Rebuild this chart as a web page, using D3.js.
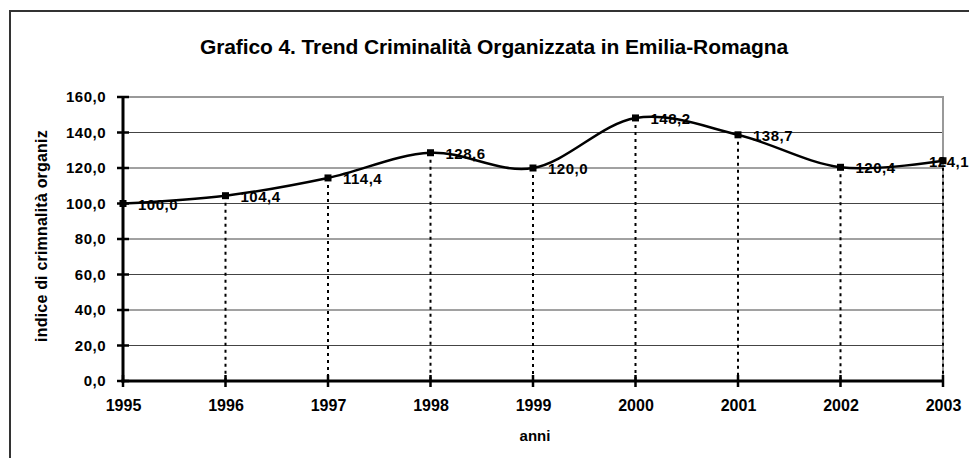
<!DOCTYPE html>
<html>
<head>
<meta charset="utf-8">
<script src="https://cdn.jsdelivr.net/npm/d3@7"></script>
<style>
  html, body { margin: 0; padding: 0; background: #fff; }
  svg { display: block; font-family: "Liberation Sans", Arial, sans-serif; }
</style>
</head>
<body>
<svg id="chart" width="969" height="458"></svg>
<script>
const years = ["1995","1996","1997","1998","1999","2000","2001","2002","2003"];
const values = [100.0, 104.4, 114.4, 128.6, 120.0, 148.2, 138.7, 120.4, 124.1];
const yTicks = [0, 20, 40, 60, 80, 100, 120, 140, 160];
const titleText = "Grafico 4. Trend Criminalità Organizzata in Emilia-Romagna";
const yLabel = "indice di crimnalità organiz";
const xLabel = "anni";

const W = 969, H = 458;
const svg = d3.select("#chart");
const fmt = v => d3.format(".1f")(v).replace(".", ",");

// outer frame
svg.append("rect").attr("x", 10).attr("y", 11).attr("width", 980).attr("height", 480)
  .attr("fill", "#fff").attr("stroke", "#333").attr("stroke-width", 2);

const x = d3.scalePoint().domain(years).range([123, 943]);
const y = d3.scaleLinear().domain([0, 160]).range([381, 97]);

// gridlines
svg.append("g").selectAll("line").data(yTicks.filter(t => t > 0 && t < 160)).join("line")
  .attr("x1", 123).attr("x2", 943)
  .attr("y1", d => y(d)).attr("y2", d => y(d))
  .attr("stroke", "#444").attr("stroke-width", 1);

// plot border (top & right)
svg.append("path")
  .attr("d", `M123,${y(160)}H943V381`)
  .attr("fill", "none").attr("stroke", "#999").attr("stroke-width", 2);

// drop lines
svg.append("g").selectAll("line").data(years.map((yr, i) => [yr, values[i]]).slice(1)).join("line")
  .attr("x1", d => x(d[0])).attr("x2", d => x(d[0]))
  .attr("y1", d => y(d[1])).attr("y2", 381)
  .attr("stroke", "#000").attr("stroke-width", 2).attr("stroke-dasharray", "3,4");

// axes
const yAxis = d3.axisLeft(y).tickValues(yTicks).tickFormat(fmt).tickSize(0).tickPadding(17);
const gy = svg.append("g").attr("transform", "translate(123,0)").call(yAxis);
gy.select(".domain").remove();
gy.selectAll("text").attr("font-size", 15).attr("font-weight", "bold").attr("fill", "#000")
  .attr("font-family", "Liberation Sans, Arial, sans-serif").attr("letter-spacing", "0.5px");

const xAxis = d3.axisBottom(x).tickSize(0).tickPadding(19);
const gx = svg.append("g").attr("transform", "translate(0,381)").call(xAxis);
gx.select(".domain").remove();
gx.selectAll("text").attr("font-size", 16).attr("font-weight", "bold").attr("fill", "#000")
  .attr("font-family", "Liberation Sans, Arial, sans-serif");

// axis lines
svg.append("line").attr("x1", 123).attr("x2", 123).attr("y1", 97).attr("y2", 382.5)
  .attr("stroke", "#000").attr("stroke-width", 3);
svg.append("line").attr("x1", 121.5).attr("x2", 943).attr("y1", 381).attr("y2", 381)
  .attr("stroke", "#000").attr("stroke-width", 3);
// tick marks
svg.append("g").selectAll("line").data(yTicks).join("line")
  .attr("x1", 117).attr("x2", 129).attr("y1", d => y(d)).attr("y2", d => y(d))
  .attr("stroke", "#000").attr("stroke-width", 2.5);
svg.append("g").selectAll("line").data(years).join("line")
  .attr("x1", d => x(d)).attr("x2", d => x(d)).attr("y1", 375).attr("y2", 387)
  .attr("stroke", "#000").attr("stroke-width", 2.5);

// line
const pts = years.map((yr, i) => [x(yr), y(values[i])]);
svg.append("path").datum(pts)
  .attr("d", d3.line().curve(d3.curveCardinal.tension(0)))
  .attr("fill", "none").attr("stroke", "#000").attr("stroke-width", 2.5);

// markers
svg.append("g").selectAll("rect").data(pts).join("rect")
  .attr("x", d => d[0] - 3.5).attr("y", d => d[1] - 3.5)
  .attr("width", 7).attr("height", 7).attr("fill", "#000");

// data labels
const lbl = svg.append("g").selectAll("text").data(pts).join("text")
  .attr("y", d => d[1] + 6)
  .attr("font-size", 15).attr("font-weight", "bold").attr("letter-spacing", "0.5px")
  .attr("fill", "#000")
  .text((d, i) => fmt(values[i]));
lbl.each(function(d) {
  const w = this.getComputedTextLength();
  let sx = d[0] + 15;
  if (sx + w > W) sx = W - w;
  d3.select(this).attr("x", sx);
});

// title
svg.append("text").attr("x", 494).attr("y", 54).attr("text-anchor", "middle")
  .attr("font-size", 21).attr("font-weight", "bold").attr("letter-spacing", "-0.1px")
  .text(titleText);

// y label
svg.append("text").attr("transform", "translate(47,236) rotate(-90)")
  .attr("text-anchor", "middle").attr("font-size", 16).attr("font-weight", "bold")
  .attr("letter-spacing", "0.2px")
  .text(yLabel);

// x label
svg.append("text").attr("x", 535).attr("y", 441).attr("text-anchor", "middle")
  .attr("font-size", 15).attr("font-weight", "bold")
  .text(xLabel);
</script>
</body>
</html>
